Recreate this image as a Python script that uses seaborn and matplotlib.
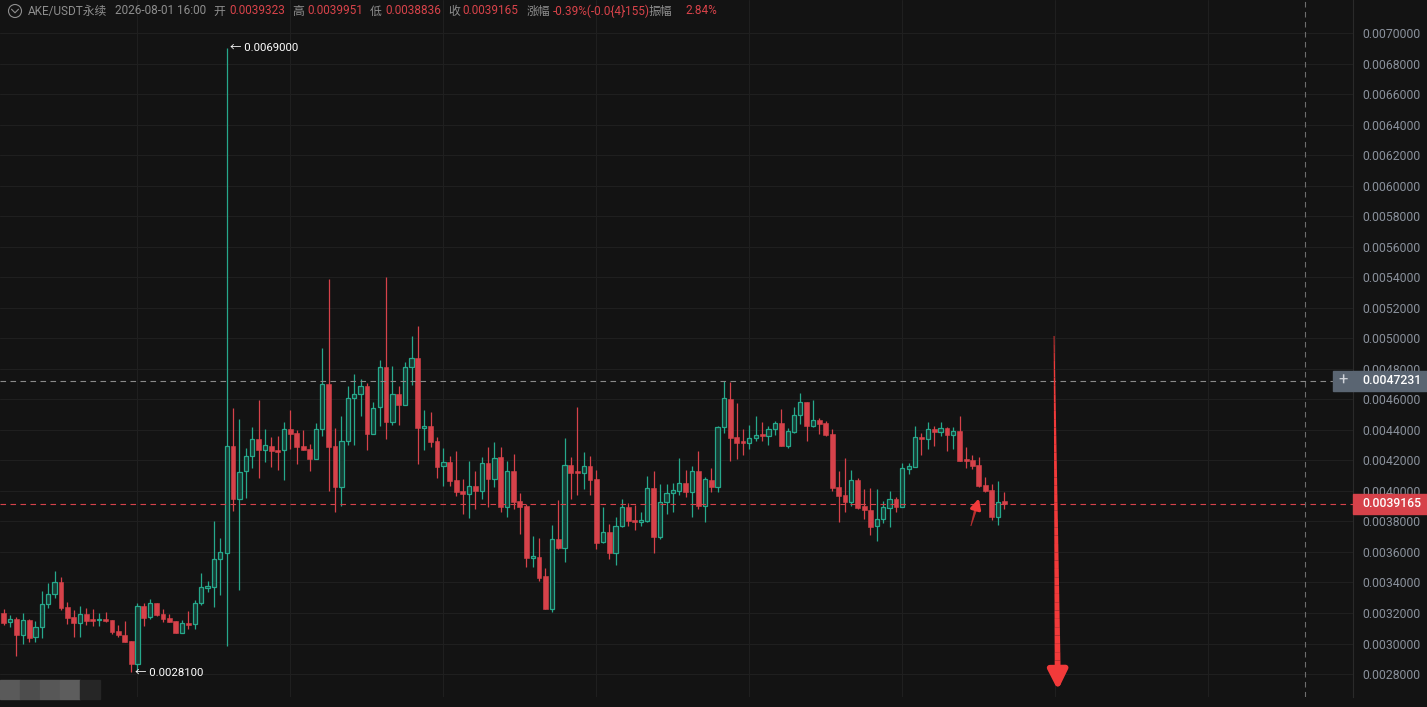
import matplotlib
matplotlib.use('Agg')
import matplotlib.pyplot as plt
from matplotlib.patches import Rectangle, Ellipse
from matplotlib.lines import Line2D
from matplotlib.transforms import blended_transform_factory
import seaborn as sns
import pandas as pd
import numpy as np

# --- candle data (AKE/USDT perpetual) ---
opens = [
    0.003200, 0.003139, 0.003161, 0.003058, 0.003154, 0.003040, 0.003106, 0.003257, 0.003322, 0.003400,
    0.003239, 0.003174, 0.003136, 0.003193, 0.003161, 0.003153, 0.003161, 0.003154, 0.003082, 0.003056,
    0.003016, 0.002868, 0.003246, 0.003172, 0.003263, 0.003193, 0.003167, 0.003147, 0.003071, 0.003134,
    0.003126, 0.003263, 0.003365, 0.003372, 0.003552, 0.003595, 0.004294, 0.003945, 0.004128, 0.004226,
    0.004338, 0.004270, 0.004292, 0.004268, 0.004266, 0.004405, 0.004379, 0.004294, 0.004274, 0.004211,
    0.004403, 0.004700, 0.004294, 0.004027, 0.004325, 0.004607, 0.004633, 0.004688, 0.004375, 0.004547,
    0.004810, 0.004453, 0.004633, 0.004565, 0.004810, 0.004869, 0.004414, 0.004425, 0.004325, 0.004161,
    0.004189, 0.004071, 0.003999, 0.003982, 0.004030, 0.004001, 0.004183, 0.004078, 0.004222, 0.003896,
    0.004130, 0.003934, 0.003901, 0.003562, 0.003567, 0.003442, 0.003226, 0.003685, 0.003628, 0.004170,
    0.004130, 0.004119, 0.004163, 0.004078, 0.003667, 0.003731, 0.003595, 0.003768, 0.003894, 0.003809,
    0.003798, 0.003805, 0.004017, 0.003700, 0.003925, 0.003984, 0.004001, 0.004050, 0.003995, 0.004130,
    0.003903, 0.004071, 0.004023, 0.004417, 0.004600, 0.004353, 0.004329, 0.004312, 0.004348, 0.004373,
    0.004361, 0.004403, 0.004445, 0.004296, 0.004388, 0.004495, 0.004582, 0.004427, 0.004464, 0.004445,
    0.004373, 0.004025, 0.003973, 0.003929, 0.004069, 0.003901, 0.003875, 0.003772, 0.003814, 0.003890,
    0.003945, 0.003896, 0.004145, 0.004159, 0.004351, 0.004342, 0.004403, 0.004386, 0.004412, 0.004368,
    0.004392, 0.004209, 0.004202, 0.004170, 0.004038, 0.004004, 0.003830, 0.0039323,
]
highs = [
    0.003226, 0.003185, 0.003174, 0.003198, 0.003160, 0.003147, 0.003342, 0.003398, 0.003475, 0.003436,
    0.003272, 0.003222, 0.003244, 0.003235, 0.003226, 0.003198, 0.003204, 0.003154, 0.003123, 0.003147,
    0.003016, 0.003265, 0.003263, 0.003292, 0.003263, 0.003226, 0.003193, 0.003147, 0.003154, 0.003215,
    0.003283, 0.003459, 0.003409, 0.003803, 0.003689, 0.006900, 0.004545, 0.004471, 0.004283, 0.004418,
    0.004597, 0.004405, 0.004355, 0.004361, 0.004449, 0.004528, 0.004397, 0.004399, 0.004307, 0.004442,
    0.004934, 0.005388, 0.004412, 0.004493, 0.004688, 0.004768, 0.004735, 0.004705, 0.004582, 0.004857,
    0.005403, 0.004816, 0.004688, 0.004842, 0.005013, 0.005079, 0.004530, 0.004515, 0.004351, 0.004283,
    0.004228, 0.004261, 0.004078, 0.004196, 0.004132, 0.004224, 0.004287, 0.004318, 0.004287, 0.004194,
    0.004240, 0.003986, 0.003912, 0.003705, 0.003691, 0.003495, 0.003778, 0.003938, 0.004348, 0.004220,
    0.004550, 0.004255, 0.004228, 0.004137, 0.003896, 0.003785, 0.003827, 0.003945, 0.003919, 0.003909,
    0.003860, 0.004096, 0.004132, 0.004047, 0.004045, 0.004054, 0.004213, 0.004137, 0.004163, 0.004261,
    0.004093, 0.004148, 0.004425, 0.0047231, 0.004711, 0.004576, 0.004407, 0.004432, 0.004489, 0.004453,
    0.004425, 0.004460, 0.004539, 0.004410, 0.004548, 0.004643, 0.004582, 0.004593, 0.004479, 0.004460,
    0.004407, 0.004130, 0.004217, 0.004137, 0.004084, 0.004014, 0.004019, 0.004012, 0.003934, 0.004001,
    0.003962, 0.004183, 0.004183, 0.004427, 0.004381, 0.004449, 0.004425, 0.004449, 0.004417, 0.004417,
    0.004491, 0.004286, 0.004235, 0.004220, 0.004093, 0.004043, 0.004065, 0.0039951,
]
lows = [
    0.003121, 0.003110, 0.002920, 0.002999, 0.003008, 0.003012, 0.003038, 0.003235, 0.003300, 0.003219,
    0.003127, 0.003042, 0.003044, 0.003123, 0.003115, 0.003115, 0.003139, 0.003063, 0.003042, 0.003008,
    0.002811, 0.002826, 0.003113, 0.003159, 0.003180, 0.003139, 0.003143, 0.003071, 0.003071, 0.003093,
    0.003095, 0.003250, 0.003335, 0.003241, 0.003319, 0.002986, 0.003870, 0.003350, 0.003955, 0.004148,
    0.004083, 0.004187, 0.004159, 0.004137, 0.004071, 0.004274, 0.004177, 0.004270, 0.004132, 0.004211,
    0.004361, 0.004001, 0.003860, 0.003899, 0.004300, 0.004298, 0.004493, 0.004270, 0.004371, 0.004425,
    0.004342, 0.004432, 0.004434, 0.004565, 0.004694, 0.004174, 0.004266, 0.004289, 0.004083, 0.004034,
    0.004032, 0.003968, 0.003850, 0.003824, 0.003881, 0.003945, 0.003893, 0.004027, 0.003862, 0.003830,
    0.003881, 0.003717, 0.003500, 0.003500, 0.003411, 0.003226, 0.003206, 0.003619, 0.003536, 0.003947,
    0.003973, 0.004010, 0.003975, 0.003619, 0.003660, 0.003556, 0.003514, 0.003765, 0.003770, 0.003742,
    0.003772, 0.003798, 0.003593, 0.003685, 0.003851, 0.003860, 0.003975, 0.003962, 0.003829, 0.003879,
    0.003798, 0.003991, 0.003995, 0.004377, 0.004198, 0.004209, 0.004233, 0.004274, 0.004325, 0.004329,
    0.004298, 0.004366, 0.004292, 0.004283, 0.004377, 0.004436, 0.004329, 0.004420, 0.004375, 0.004361,
    0.004001, 0.003798, 0.003864, 0.003899, 0.003879, 0.003816, 0.003713, 0.003672, 0.003788, 0.003761,
    0.003859, 0.003896, 0.004112, 0.004159, 0.004233, 0.004276, 0.004296, 0.004360, 0.004261, 0.004272,
    0.004198, 0.004148, 0.004145, 0.004027, 0.003995, 0.003811, 0.003775, 0.0038836,
]
closes = [
    0.003134, 0.003161, 0.003058, 0.003154, 0.003038, 0.003106, 0.003257, 0.003322, 0.003400, 0.003233,
    0.003169, 0.003136, 0.003193, 0.003149, 0.003147, 0.003161, 0.003147, 0.003078, 0.003058, 0.003012,
    0.002868, 0.003244, 0.003169, 0.003263, 0.003188, 0.003161, 0.003143, 0.003071, 0.003133, 0.003123,
    0.003263, 0.003368, 0.003379, 0.003552, 0.003598, 0.004294, 0.003947, 0.004122, 0.004226, 0.004338,
    0.004270, 0.004299, 0.004263, 0.004257, 0.004403, 0.004375, 0.004289, 0.004270, 0.004211, 0.004403,
    0.004698, 0.004289, 0.004027, 0.004325, 0.004607, 0.004633, 0.004686, 0.004375, 0.004541, 0.004810,
    0.004453, 0.004633, 0.004565, 0.004810, 0.004869, 0.004414, 0.004425, 0.004322, 0.004159, 0.004187,
    0.004067, 0.003995, 0.003982, 0.004030, 0.003999, 0.004181, 0.004078, 0.004217, 0.003896, 0.004128,
    0.003927, 0.003896, 0.003562, 0.003574, 0.003431, 0.003226, 0.003683, 0.003628, 0.004167, 0.004119,
    0.004119, 0.004163, 0.004073, 0.003660, 0.003729, 0.003595, 0.003768, 0.003892, 0.003805, 0.003798,
    0.003809, 0.004017, 0.003700, 0.003925, 0.003984, 0.004004, 0.004050, 0.003995, 0.004128, 0.003903,
    0.004076, 0.004023, 0.004417, 0.004607, 0.004348, 0.004316, 0.004316, 0.004344, 0.004364, 0.004361,
    0.004403, 0.004443, 0.004296, 0.004392, 0.004495, 0.004580, 0.004427, 0.004462, 0.004440, 0.004366,
    0.004021, 0.003966, 0.003929, 0.004069, 0.003890, 0.003877, 0.003765, 0.003814, 0.003894, 0.003945,
    0.003896, 0.004148, 0.004161, 0.004351, 0.004340, 0.004403, 0.004386, 0.004410, 0.004366, 0.004392,
    0.004198, 0.004198, 0.004163, 0.004034, 0.004001, 0.003829, 0.003925, 0.0039165,
]

y_ticks = [0.0028, 0.0030, 0.0032, 0.0034, 0.0036, 0.0038, 0.0040, 0.0042, 0.0044, 0.0046,
           0.0048, 0.0050, 0.0052, 0.0054, 0.0056, 0.0058, 0.0060, 0.0062, 0.0064, 0.0066,
           0.0068, 0.0070]
y_tick_labels = ['%.7f' % v for v in y_ticks]
time_grid = [21, 45, 69, 93, 117, 141, 165, 189]

max_price, max_idx = 0.0069000, 35
min_price, min_idx = 0.0028100, 20
last_price = 0.0039165
cross_price = 0.0047231
cross_idx = 204.1

# annotation arrows: (tail, tip) in (candle index, price)
big_arrow = ((164.8, 0.005015), (165.4, 0.002695))
small_arrow = ((151.75, 0.003770), (153.0, 0.003951))

header = [
    ('AKE/USDT永续', 'gray', 28.3), ('2026-08-01 16:00', 'gray', 115.0),
    ('开', 'gray', 213.3), ('0.0039323', 'red', 229.3),
    ('高', 'gray', 292.3), ('0.0039951', 'red', 307.3),
    ('低', 'gray', 370.0), ('0.0038836', 'red', 385.7),
    ('收', 'gray', 448.3), ('0.0039165', 'red', 462.7),
    ('涨幅', 'gray', 526.7), ('-0.39%(-0.0{4}155)', 'red', 552.7),
    ('振幅', 'gray', 648.3), ('2.84%', 'red', 685.0),
]

# --- style ---
BG = '#131313'
GRID = '#1f1f1f'
GREEN = '#26a88b'
GREEN_FILL = '#173b33'
RED = '#d6424a'
ARROW_RED = '#f23a3a'
AXIS_TXT = '#8a919c'
HEAD_GRAY = '#8e8e8e'
HEAD_RED = '#d9434a'

W, H = 1427, 707
sns.set_theme(style='dark', rc={'axes.facecolor': BG, 'figure.facecolor': BG})
plt.rcParams['font.family'] = ['Roboto', 'Noto Sans CJK SC', 'DejaVu Sans']

fig = plt.figure(figsize=(W / 100, H / 100), dpi=100, facecolor=BG)
ax = fig.add_axes([0, 10 / H, 1353 / W, 697 / H])
ax.set_facecolor(BG)

df = pd.DataFrame({'open': opens, 'high': highs, 'low': lows, 'close': closes})
df['x'] = np.arange(len(df))
df['up'] = df['close'] >= df['open']
df['bottom'] = df[['open', 'close']].min(axis=1)
df['body'] = (df['close'] - df['open']).abs().clip(lower=0.0000085)

up = df[df['up']]
dn = df[~df['up']]

ax.vlines(up['x'], up['low'], up['high'], color=GREEN, lw=0.9, zorder=2)
ax.vlines(dn['x'], dn['low'], dn['high'], color=RED, lw=0.9, zorder=2)
ax.bar(up['x'], up['body'], bottom=up['bottom'], width=0.66,
       facecolor=GREEN_FILL, edgecolor=GREEN, linewidth=0.9, zorder=3)
ax.bar(dn['x'], dn['body'], bottom=dn['bottom'], width=0.76,
       facecolor=RED, edgecolor=RED, linewidth=0.4, zorder=3)

y_lo, y_hi = 0.0026495, 0.0072162
ax.set_xlim(-0.565, 211.7)
ax.set_ylim(y_lo, y_hi)
px = (y_hi - y_lo) / 697.0

ax.set_yticks(y_ticks)
ax.set_yticklabels(y_tick_labels)
ax.yaxis.tick_right()
ax.set_xticks(time_grid)
ax.tick_params(axis='x', length=0, labelbottom=False)
ax.tick_params(axis='y', length=0, pad=6.5, labelsize=8.8, labelcolor=AXIS_TXT)
ax.grid(True, color=GRID, lw=0.8)
for s in ['top', 'left', 'bottom']:
    ax.spines[s].set_visible(False)
ax.spines['right'].set_color('#2a2a2a')
ax.spines['right'].set_linewidth(0.8)

# price lines and crosshair
ax.axhline(last_price, color=RED, lw=0.8, dashes=(5, 4), zorder=4)
ax.axhline(cross_price, xmax=1333 / 1353, color='#8a8a8a', lw=0.8, dashes=(5, 4), zorder=4)
ax.axvline(cross_idx, color='#6e6e6e', lw=0.8, dashes=(5, 4), zorder=4)

# max/min markers
ax.text(max_idx + 0.5, max_price, '← %.7f' % max_price, color='white',
        fontsize=8.2, va='center', ha='left', zorder=5)
ax.text(min_idx + 0.6, min_price, '← %.7f' % min_price, color='white',
        fontsize=8.2, va='center', ha='left', zorder=5)

# right-axis price tags
tr = blended_transform_factory(fig.transFigure, ax.transData)
ax.add_patch(Rectangle((1353 / W, last_price - 10 * px), 74 / W, 20 * px,
                       transform=tr, color=RED, clip_on=False, zorder=6))
ax.text(1362 / W, last_price, '%.7f' % last_price, transform=tr, color='white',
        fontsize=8.8, va='center', ha='left', fontweight='medium', zorder=7, clip_on=False)
ax.add_patch(Rectangle((1353 / W, cross_price - 10 * px), 74 / W, 20 * px,
                       transform=tr, color='#5a6572', clip_on=False, zorder=6))
ax.add_patch(Rectangle((1333 / W, cross_price - 10 * px), 19.5 / W, 20 * px,
                       transform=tr, color='#5a6572', clip_on=False, zorder=6))
ax.text(1343 / W, cross_price, '+', transform=tr, color='#d0d4da', fontsize=12,
        va='center', ha='center', zorder=7, clip_on=False)
ax.text(1362 / W, cross_price, '%.7f' % cross_price, transform=tr, color='white',
        fontsize=8.8, va='center', ha='left', fontweight='medium', zorder=7, clip_on=False)


def tapered_arrow(ax, tail, tip, w0, w1, head_frac, ms, n=40):
    """hand-drawn style arrow: shaft gets wider towards the head"""
    (x0, y0), (x1, y1) = tail, tip
    xb = x0 + (x1 - x0) * (1 - head_frac)
    yb = y0 + (y1 - y0) * (1 - head_frac)
    xs = np.linspace(x0, xb, n + 1)
    ys = np.linspace(y0, yb, n + 1)
    ws = np.linspace(w0, w1, n)
    for i in range(n):
        ax.plot(xs[i:i + 2], ys[i:i + 2], color=ARROW_RED, lw=ws[i],
                solid_capstyle='butt', zorder=8, clip_on=False)
    ax.annotate('', xy=(x1, y1), xytext=(xb, yb),
                arrowprops=dict(arrowstyle='-|>,head_length=0.6,head_width=0.3',
                                color=ARROW_RED, lw=w1, mutation_scale=ms,
                                shrinkA=0, shrinkB=0),
                zorder=8, annotation_clip=False)


tapered_arrow(ax, big_arrow[0], big_arrow[1], 0.6, 4.2, 0.06, 19)
tapered_arrow(ax, small_arrow[0], small_arrow[1], 0.6, 2.2, 0.3, 10)

# header bar
yh = 1 - 11 / H
fig.add_artist(Ellipse((15 / W, yh), 13 / W, 13 / H, transform=fig.transFigure,
                       fill=False, ec=HEAD_GRAY, lw=0.8))
fig.add_artist(Line2D([11.5 / W, 15 / W, 18.5 / W], [yh + 1.8 / H, yh - 1.8 / H, yh + 1.8 / H],
                      transform=fig.transFigure, color=HEAD_GRAY, lw=0.8))
for txt, col, xp in header:
    fig.text(xp / W, yh, txt, color=HEAD_GRAY if col == 'gray' else HEAD_RED,
             fontsize=8.5, va='center', ha='left')

# blurred watermark blocks bottom-left
for i, c in enumerate(['#5a5a5a', '#4d4d4d', '#575757', '#5d5d5d', '#262626']):
    fig.add_artist(Rectangle(((i * 20) / W, (H - 699) / H), 20 / W, 19 / H,
                             transform=fig.transFigure, color=c))

fig.savefig('out.png', dpi=100, facecolor=BG)
